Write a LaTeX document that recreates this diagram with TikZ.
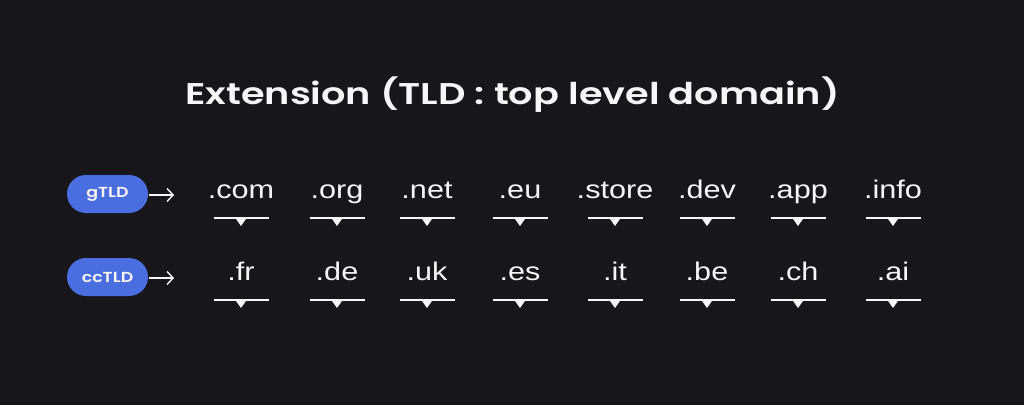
\documentclass[tikz,border=0pt]{standalone}
\usepackage{fontspec}
\usetikzlibrary{arrows.meta}
\setmainfont{Liberation Sans}[FakeStretch=1.2]
\newfontfamily\titlefont{Poppins SemiBold}[FakeStretch=1.275]
\newfontfamily\pillfont{Poppins SemiBold}[FakeStretch=1.2]
\definecolor{bg}{HTML}{17161B}
\definecolor{pillblue}{HTML}{4A6EE0}
\definecolor{fg}{HTML}{F7F7F7}
\begin{document}
\begin{tikzpicture}[x=1pt,y=-1pt,
  pill/.style={fill=pillblue,rounded corners=19pt,minimum width=81pt,minimum height=38pt,inner sep=0pt,text=fg,font=\pillfont\fontsize{14.5}{14.5}\selectfont},
  dom/.style={text=fg,font=\fontsize{25.5}{25.5}\selectfont,anchor=base,inner sep=0pt},
  uline/.style={draw=fg,line width=2pt},
  tri/.style={fill=fg},
  arr/.style={draw=fg,line width=1.4pt,-{Straight Barb[length=6pt,width=13pt,line width=1.4pt]}}
]
\fill[bg] (0,0) rectangle (1024,405);
\useasboundingbox (0,0) rectangle (1024,405);
\node[text=fg,font=\titlefont\fontsize{30}{30}\selectfont,anchor=base] (title) at (512.5,104) {Extension (TLD : top level domain)};
\node[pill] (g) at (107.5,194) {gTLD};
\node[pill] (cc) at (107.5,277) {ccTLD};
\coordinate (ga) at (174,195);
\coordinate (cca) at (174,278);
\coordinate (gs) at (149,195);
\coordinate (ccs) at (149,278);
\draw[arr] (gs) -- (ga);
\draw[arr] (ccs) -- (cca);
\foreach \x/\a/\b [count=\i] in {241/.com/.fr,337/.org/.de,427/.net/.uk,520/.eu/.es,615/.store/.it,707/.dev/.be,798/.app/.ch,893/.info/.ai}{
  \node[dom] (t\i) at (\x,198) {\a};
  \node[dom] (b\i) at (\x,280) {\b};
  \coordinate (lt\i) at (\x,217.5);
  \coordinate (lb\i) at (\x,299.5);
  \draw[uline] ([xshift=-27.5pt]lt\i) -- ([xshift=27.5pt]lt\i);
  \fill[tri] ([xshift=-6pt]lt\i) -- ([xshift=6pt]lt\i) -- ([yshift=-8.5pt]lt\i) -- cycle;
  \draw[uline] ([xshift=-27.5pt]lb\i) -- ([xshift=27.5pt]lb\i);
  \fill[tri] ([xshift=-6pt]lb\i) -- ([xshift=6pt]lb\i) -- ([yshift=-8.5pt]lb\i) -- cycle;
}
\end{tikzpicture}
\end{document}
